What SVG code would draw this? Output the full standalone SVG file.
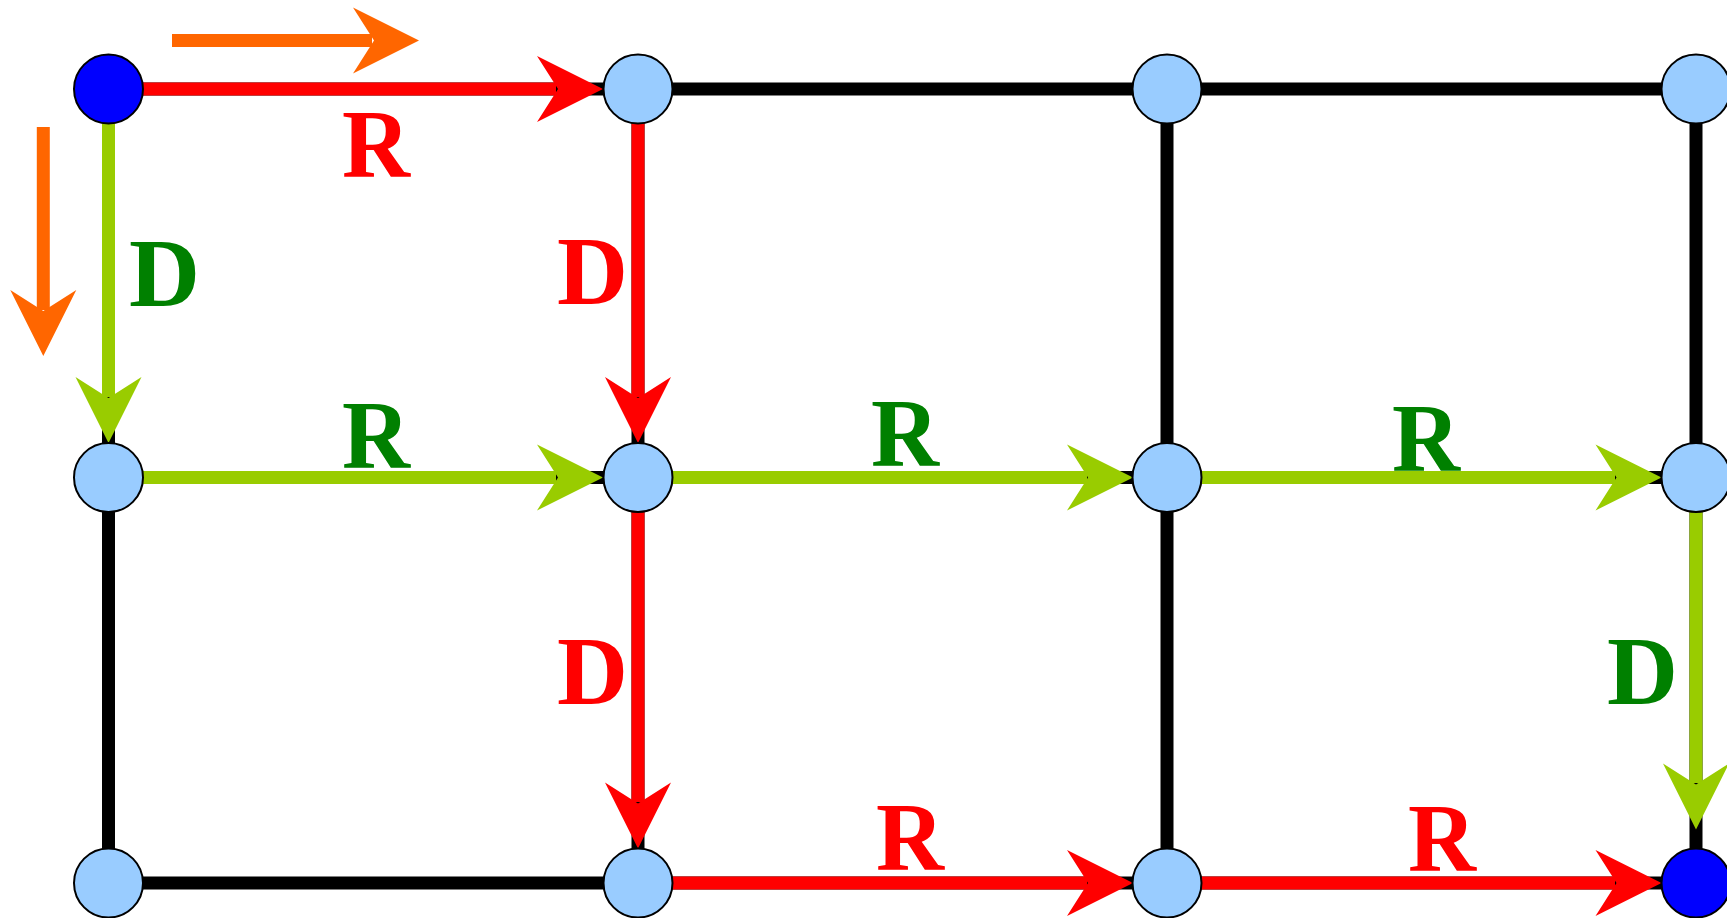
<svg xmlns="http://www.w3.org/2000/svg" xmlns:xlink="http://www.w3.org/1999/xlink" width="1727" height="918" viewBox="0 0 1727 918">
<style>
.grid{stroke:#000;stroke-width:13;fill:none}
.red{stroke:#ff0000;stroke-width:13;fill:none}
.grn{stroke:#99cc00;stroke-width:13;fill:none}
.org{stroke:#ff6600;stroke-width:13;fill:none}
.hr{fill:#ff0000}
.hg{fill:#99cc00}
.ho{fill:#ff6600}
.node{fill:#99ccff;stroke:#000;stroke-width:2}
.start{fill:#0000ff;stroke:#000;stroke-width:2}
.lbl{font-family:"Liberation Serif","Times New Roman",serif;font-weight:bold;font-size:97px}
.lr{fill:#ff0000}
.lg{fill:#008000}
</style>
<defs>
<path id="ah" d="M0,0 L-66,-33 L-45,0 L-66,33 Z"/>
</defs>
<g id="grid">
<line class="grid" x1="108.5" y1="89" x2="1696" y2="89"/>
<line class="grid" x1="108.5" y1="477.5" x2="1696" y2="477.5"/>
<line class="grid" x1="108.5" y1="883" x2="1696" y2="883"/>
<line class="grid" x1="108.5" y1="89" x2="108.5" y2="883"/>
<line class="grid" x1="638" y1="89" x2="638" y2="883"/>
<line class="grid" x1="1167" y1="89" x2="1167" y2="883"/>
<line class="grid" x1="1696" y1="89" x2="1696" y2="883"/>
</g>
<g id="connectors">
<line class="org" x1="172" y1="40.5" x2="372" y2="40.5"/>
<use xlink:href="#ah" class="ho" transform="translate(419,40.5)"/>
<line class="org" x1="43.3" y1="127" x2="43.3" y2="310"/>
<use xlink:href="#ah" class="ho" transform="translate(43.3,356) rotate(90)"/>

<line class="red" x1="108.5" y1="89" x2="556" y2="89"/>
<use xlink:href="#ah" class="hr" transform="translate(603,89)"/>
<line class="grn" x1="108.5" y1="89" x2="108.5" y2="397"/>
<use xlink:href="#ah" class="hg" transform="translate(108.5,443) rotate(90)"/>
<line class="red" x1="638" y1="89" x2="638" y2="397"/>
<use xlink:href="#ah" class="hr" transform="translate(638,443) rotate(90)"/>
<line class="grn" x1="108.5" y1="477.5" x2="556" y2="477.5"/>
<use xlink:href="#ah" class="hg" transform="translate(603,477.5)"/>
<line class="grn" x1="638" y1="477.5" x2="1087" y2="477.5"/>
<use xlink:href="#ah" class="hg" transform="translate(1133,477.5)"/>
<line class="grn" x1="1167" y1="477.5" x2="1615" y2="477.5"/>
<use xlink:href="#ah" class="hg" transform="translate(1661.5,477.5)"/>
<line class="red" x1="638" y1="477.5" x2="638" y2="802"/>
<use xlink:href="#ah" class="hr" transform="translate(638,848.5) rotate(90)"/>
<line class="grn" x1="1696" y1="477.5" x2="1696" y2="783"/>
<use xlink:href="#ah" class="hg" transform="translate(1696,829.5) rotate(90)"/>
<line class="red" x1="638" y1="883" x2="1087" y2="883"/>
<use xlink:href="#ah" class="hr" transform="translate(1133,883)"/>
<line class="red" x1="1167" y1="883" x2="1615" y2="883"/>
<use xlink:href="#ah" class="hr" transform="translate(1661.5,883)"/>
</g>
<g id="labels">
<text class="lbl lr" x="342" y="177" textLength="68" lengthAdjust="spacingAndGlyphs">R</text>
<text class="lbl lg" x="129" y="306" textLength="71" lengthAdjust="spacingAndGlyphs">D</text>
<text class="lbl lr" x="557" y="304" textLength="71" lengthAdjust="spacingAndGlyphs">D</text>
<text class="lbl lg" x="342" y="467.5" textLength="68" lengthAdjust="spacingAndGlyphs">R</text>
<text class="lbl lg" x="871" y="466" textLength="68" lengthAdjust="spacingAndGlyphs">R</text>
<text class="lbl lg" x="1392" y="471" textLength="68" lengthAdjust="spacingAndGlyphs">R</text>
<text class="lbl lr" x="557" y="704" textLength="71" lengthAdjust="spacingAndGlyphs">D</text>
<text class="lbl lg" x="1607" y="704" textLength="71" lengthAdjust="spacingAndGlyphs">D</text>
<text class="lbl lr" x="876" y="870" textLength="68" lengthAdjust="spacingAndGlyphs">R</text>
<text class="lbl lr" x="1408" y="871" textLength="68" lengthAdjust="spacingAndGlyphs">R</text>
</g>
<g id="n00"><circle class="start" cx="108.5" cy="89" r="34.5"/></g>
<g id="n10"><circle class="node" cx="638" cy="89" r="34.5"/></g>
<g id="n20"><circle class="node" cx="1167" cy="89" r="34.5"/></g>
<g id="n30"><circle class="node" cx="1696" cy="89" r="34.5"/></g>
<g id="n01"><circle class="node" cx="108.5" cy="477.5" r="34.5"/></g>
<g id="n11"><circle class="node" cx="638" cy="477.5" r="34.5"/></g>
<g id="n21"><circle class="node" cx="1167" cy="477.5" r="34.5"/></g>
<g id="n31"><circle class="node" cx="1696" cy="477.5" r="34.5"/></g>
<g id="n02"><circle class="node" cx="108.5" cy="883" r="34.5"/></g>
<g id="n12"><circle class="node" cx="638" cy="883" r="34.5"/></g>
<g id="n22"><circle class="node" cx="1167" cy="883" r="34.5"/></g>
<g id="n32"><circle class="start" cx="1696" cy="883" r="34.5"/></g>
</svg>
